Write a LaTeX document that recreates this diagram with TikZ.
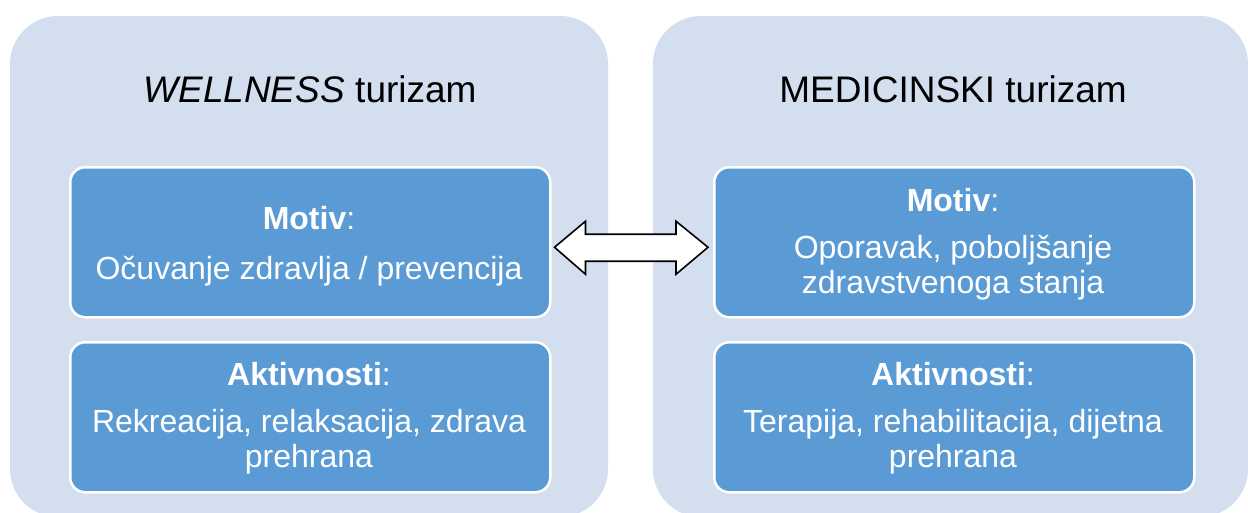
\documentclass[tikz,border=0pt]{standalone}
\usepackage{fontspec}
\setmainfont{Liberation Sans}
\usetikzlibrary{calc}
\definecolor{panel}{HTML}{D3DEEF}
\definecolor{card}{HTML}{5B9BD5}
\tikzset{
 panelbox/.style={fill=panel, draw=none, rounded corners=48pt, inner sep=0pt, outer sep=0pt},
 cardbox/.style={fill=card, draw=white, line width=2.5pt, rounded corners=15pt, inner sep=0pt, minimum width=480pt, minimum height=150pt},
 titletext/.style={font=\fontsize{37}{44}\selectfont, anchor=base, text=black, inner sep=0pt},
 headtext/.style={font=\fontsize{32}{35}\selectfont, anchor=base, text=white, inner sep=0pt},
 bodytext/.style={font=\fontsize{32}{35}\selectfont, anchor=base, text=white, inner sep=0pt},
 arrowshape/.style={draw=black, fill=white, line width=1.6pt, line join=miter}
}
\begin{document}
\begin{tikzpicture}[x=1pt,y=-1pt]
\useasboundingbox (0,0) rectangle (1248,512);
\clip (0,0) rectangle (1248,512);
% panels
\node[panelbox, minimum width=598pt, minimum height=501pt, anchor=north west] (lp) at (10,16) {};
\node[panelbox, minimum width=595pt, minimum height=501pt, anchor=north west] (rp) at (653,16) {};
% titles
\node[titletext] (lt) at (310,102) {\textit{WELLNESS} turizam};
\node[titletext] (rt) at (953,102) {MEDICINSKI turizam};
% cards
\node[cardbox, anchor=north west] (lm) at (69,166) {};
\node[cardbox, anchor=north west] (la) at (69,341) {};
\node[cardbox, anchor=north west] (rm) at (713,166) {};
\node[cardbox, anchor=north west] (ra) at (713,341) {};
% left texts
\node[headtext] (lm1) at (309,229) {\textbf{Motiv}:};
\node[bodytext] (lm2) at (309,279) {Očuvanje zdravlja / prevencija};
\node[headtext] (la1) at (309,385) {\textbf{Aktivnosti}:};
\node[bodytext] (la2) at (309,432) {Rekreacija, relaksacija, zdrava};
\node[bodytext] (la3) at (309,467) {prehrana};
% right texts
\node[headtext] (rm1) at (953,211) {\textbf{Motiv}:};
\node[bodytext] (rm2) at (953,258) {Oporavak, poboljšanje};
\node[bodytext] (rm3) at (953,293) {zdravstvenoga stanja};
\node[headtext] (ra1) at (953,385) {\textbf{Aktivnosti}:};
\node[bodytext] (ra2) at (953,432) {Terapija, rehabilitacija, dijetna};
\node[bodytext] (ra3) at (953,467) {prehrana};
% double arrow
\coordinate (L) at ($(lm.east)+(3,5)$);
\coordinate (R) at ($(rm.west)+(-5,5)$);
\draw[arrowshape] (L) -- ++(31,-26) -- ++(0,13) -- ($(R)+(-32,-13)$) -- ++(0,-13) -- (R)
  -- ++(-32,27) -- ++(0,-13) -- ($(L)+(31,14)$) -- ++(0,13) -- cycle;
\end{tikzpicture}
\end{document}
